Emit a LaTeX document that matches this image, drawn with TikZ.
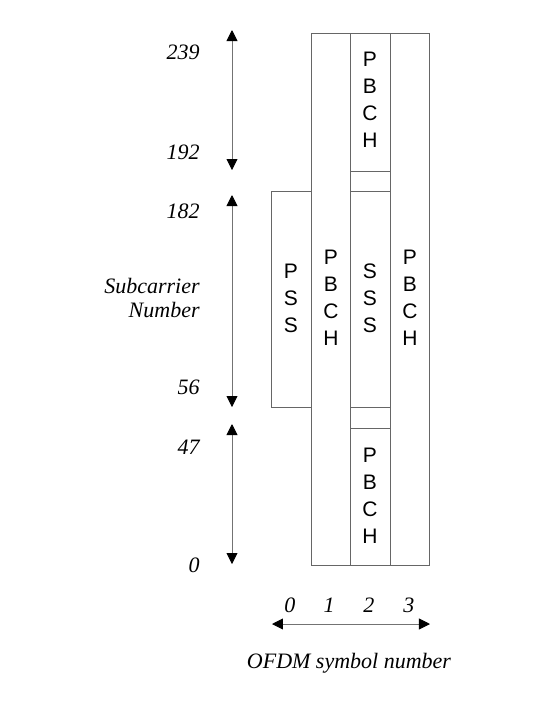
\documentclass[tikz,border=0pt]{standalone}
\usepackage{fontspec}
\setmainfont{Liberation Serif}
\newfontfamily\chanfont{Liberation Sans}
\usetikzlibrary{arrows.meta}

\tikzset{
  chan/.style={font=\chanfont\fontsize{10.5}{13.5}\selectfont, align=center, inner sep=0pt},
  num/.style={font=\fontsize{11}{12}\selectfont\itshape, inner sep=0pt},
  blk/.style={draw=black!60, line width=0.45pt},
  dim/.style={draw=black!55, line width=0.45pt, {Triangle[width=5.5pt,length=5.5pt,color=black]}-{Triangle[width=5.5pt,length=5.5pt,color=black]}}
}

\begin{document}
\begin{tikzpicture}[x=0.5pt,y=-0.5pt]
\useasboundingbox (0,0) rectangle (542,720);

% resource blocks
\draw[blk] (271,191) rectangle (311,407);
\draw[blk] (311,33) rectangle (350,565);
\draw[blk] (350,33) rectangle (390,171);
\draw[blk] (350,171) rectangle (390,191);
\draw[blk] (350,191) rectangle (390,407);
\draw[blk] (350,407) rectangle (390,428);
\draw[blk] (350,428) rectangle (390,565);
\draw[blk] (390,33) rectangle (429,565);

\node[chan] (pss) at (291,298) {P\\S\\S};
\node[chan] (pbch1) at (331,298) {P\\B\\C\\H};
\node[chan] (pbchtop) at (370,100) {P\\B\\C\\H};
\node[chan] (sss) at (370,298) {S\\S\\S};
\node[chan] (pbchbot) at (370,496) {P\\B\\C\\H};
\node[chan] (pbch3) at (410,298) {P\\B\\C\\H};

% subcarrier axis
\node[num,anchor=east] (n239) at (200,52) {239};
\node[num,anchor=east] (n192) at (200,152) {192};
\node[num,anchor=east] (n182) at (200,211) {182};
\node[num,anchor=east,align=right] (subc) at (200,298) {Subcarrier\\Number};
\node[num,anchor=east] (n56) at (200,387) {56};
\node[num,anchor=east] (n47) at (200,447) {47};
\node[num,anchor=east] (n0) at (200,565) {0};

\coordinate (a1) at (232,30);
\coordinate (b1) at (232,170);
\coordinate (a2) at (232,195);
\coordinate (b2) at (232,407);
\coordinate (a3) at (232,424);
\coordinate (b3) at (232,564);
\draw[dim] (a1)--(b1);
\draw[dim] (a2)--(b2);
\draw[dim] (a3)--(b3);

% symbol axis
\node[num] (s0) at (290,605) {0};
\node[num] (s1) at (329,605) {1};
\node[num] (s2) at (369,605) {2};
\node[num] (s3) at (409,605) {3};
\coordinate (left) at (272,624);
\coordinate (right) at (430,624);
\draw[dim] (left)--(right);
\node[num] (ofdm) at (349,663) {OFDM symbol number};
\end{tikzpicture}
\end{document}
